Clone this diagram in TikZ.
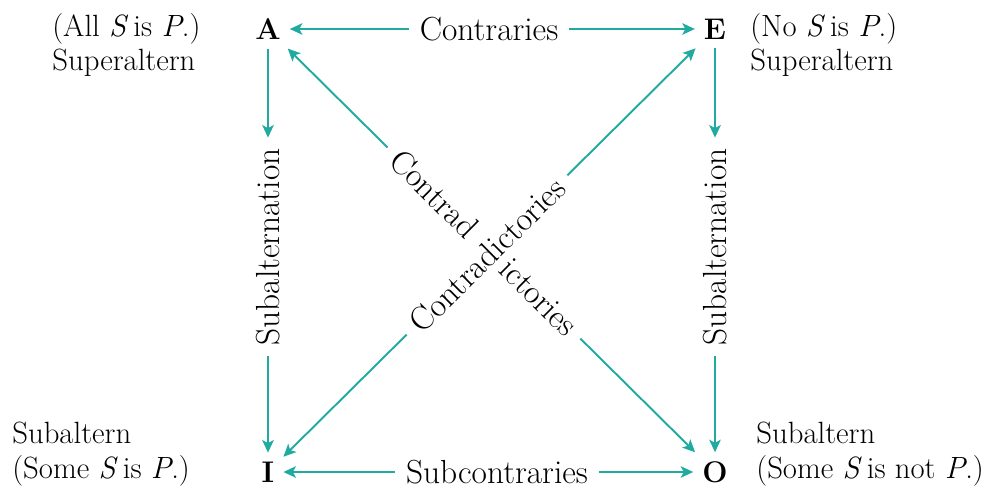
\documentclass[tikz,border=0pt]{standalone}
\usetikzlibrary{calc, positioning, arrows.meta}
\definecolor{sqteal}{RGB}{32,170,160}

\begin{document}
\begin{tikzpicture}[
  font=\fontsize{19}{19.5}\selectfont,
  arrow/.style={-{Stealth[length=2.5mm, width=2.3mm, inset=0.6mm]}, draw=sqteal, line width=1.1pt},
  corner/.style={font=\fontsize{17}{20}\selectfont\bfseries, inner sep=5pt},
  rel/.style={inner sep=6pt},
  note/.style={align=left, inner sep=0pt, anchor=west, font=\fontsize{17.5}{19.5}\selectfont}
]
\useasboundingbox (0,0) rectangle (19.72,9.78);

% --- The four propositions ---
\node[corner] (A) at (5.36,9.20) {A};
\node[corner] (E) at (14.30,9.20) {E};
\node[corner] (I) at (5.36,0.34) {I};
\node[corner] (O) at (14.30,0.34) {O};

% --- Side notes ---
\node[note] (nA) at (1.04,8.88) {(All \textit{S}\,is \textit{P}.)\\Superaltern};
\node[note] (nE) at (15.00,8.88) {(No \textit{S}\,is \textit{P}.)\\Superaltern};
\node[note] (nI) at (0.24,0.70) {Subaltern\\(Some \textit{S}\,is \textit{P}.)};
\node[note] (nO) at (15.12,0.70) {Subaltern\\(Some \textit{S}\,is not \textit{P}.)};

% --- Contraries / subcontraries ---
\node[rel] (contr) at (9.78,9.20) {Contraries};
\draw[arrow] (contr) -- (A);
\draw[arrow] (contr) -- (E);

\node[rel] (subc) at (9.94,0.34) {Subcontraries};
\draw[arrow] (subc) -- (I);
\draw[arrow] (subc) -- (O);

% --- Subalternation ---
\node[rel, rotate=90] (subL) at (5.36,4.84) {Subalternation};
\draw[arrow] (A) -- (subL);
\draw[arrow] (subL) -- (I);

\node[rel, rotate=90] (subR) at (14.30,4.84) {Subalternation};
\draw[arrow] (E) -- (subR);
\draw[arrow] (subR) -- (O);

% --- Contradictories (the two diagonals cross) ---
\node[rel, rotate=44.7] (cup) at ($(I)!0.49!(E)$) {Contradictories};
\draw[arrow] (cup) -- (I);
\draw[arrow] (cup) -- (E);

\node[rel, rotate=-44.7, inner sep=2pt] (cdownA) at ($(A)!0.372!(O)$) {Contrad};
\node[rel, rotate=-44.7, inner sep=2pt] (cdownO) at ($(A)!0.606!(O)$) {ictories};
\draw[arrow, shorten <=4pt] (cdownA) -- (A);
\draw[arrow, shorten <=4pt] (cdownO) -- (O);

\end{tikzpicture}
\end{document}
